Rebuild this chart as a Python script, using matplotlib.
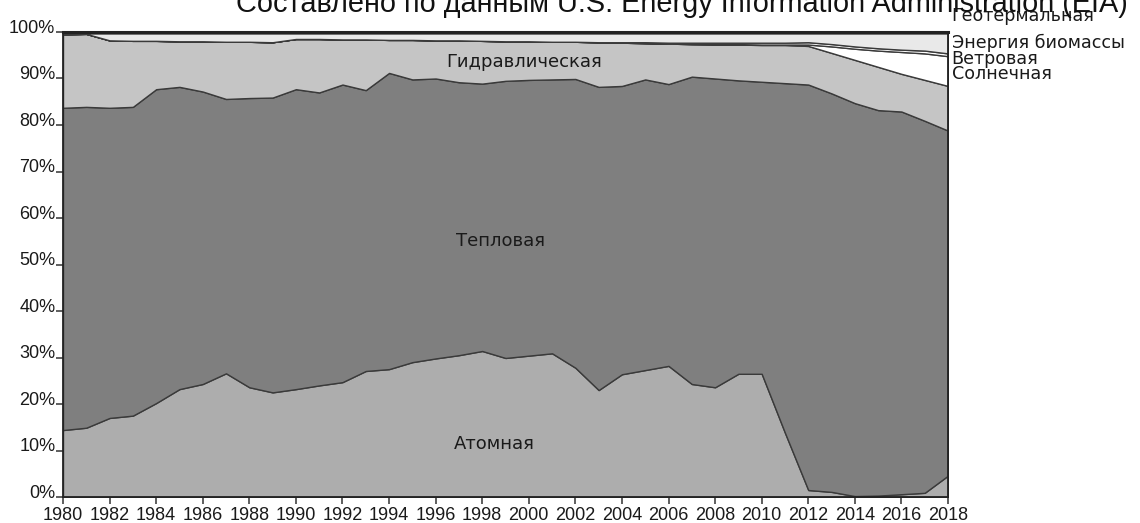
import numpy as np
import matplotlib
matplotlib.use("Agg")
import matplotlib.pyplot as plt
from matplotlib.transforms import ScaledTranslation, blended_transform_factory

years = list(range(1980, 2019))

nuclear = [14.4, 14.9, 17.0, 17.5, 20.2, 23.2, 24.3, 26.6, 23.6, 22.5,
           23.2, 24.0, 24.7, 27.1, 27.5, 29.0, 29.8, 30.5, 31.4, 29.9,
           30.4, 30.9, 27.8, 23.0, 26.4, 27.3, 28.2, 24.3, 23.6, 26.5,
           26.5, 13.8, 1.5, 1.1, 0.2, 0.3, 0.6, 0.9, 4.6]

thermal = [69.3, 69.0, 66.7, 66.4, 67.5, 65.0, 62.9, 59.0, 62.2, 63.4,
           64.5, 63.0, 64.0, 60.4, 63.7, 60.8, 60.2, 58.7, 57.5, 59.6,
           59.3, 58.9, 62.1, 65.2, 62.0, 62.5, 60.6, 66.1, 66.4, 63.1,
           62.8, 75.2, 87.2, 85.7, 84.5, 82.9, 82.3, 80.0, 74.2]

hydro = [15.8, 15.7, 14.5, 14.2, 10.4, 9.8, 10.8, 12.3, 12.1, 11.9,
         10.8, 11.5, 9.7, 10.9, 7.1, 8.5, 8.2, 9.0, 9.2, 8.5,
         8.3, 8.1, 8.0, 9.6, 9.3, 7.8, 8.7, 7.0, 7.3, 7.7,
         7.9, 8.2, 8.3, 8.7, 9.3, 9.3, 8.1, 8.8, 9.6]

solar = [0.0] * 28 + [0.1, 0.1, 0.1, 0.1, 0.3, 1.4, 2.4, 3.5, 4.7, 5.7, 6.4]

wind = [0.0] * 24 + [0.1, 0.2, 0.2, 0.3, 0.3, 0.3, 0.4, 0.4, 0.5, 0.5, 0.5,
                     0.5, 0.5, 0.6, 0.6]

biomass = [0.2, 0.1, 1.5, 1.6, 1.6, 1.7, 1.7, 1.8, 1.8, 1.9,
           1.2, 1.2, 1.3, 1.3, 1.4, 1.4, 1.5, 1.5, 1.6, 1.7,
           1.7, 1.8, 1.8, 1.9, 1.9, 1.9, 2.0, 2.0, 2.0, 2.0,
           2.0, 2.0, 1.9, 2.3, 2.8, 3.2, 3.5, 3.7, 4.3]

geothermal = [0.3] * 39

series_names = ["Атомная", "Тепловая", "Гидравлическая", "Солнечная",
                "Ветровая", "Энергия биомассы", "Геотермальная"]
colors = ["#adadad", "#7f7f7f", "#c5c5c5", "#ffffff", "#ffffff", "#e9e9e9", "#2a2a2a"]

xticks = list(range(1980, 2019, 2))
yticks = list(range(0, 101, 10))
ytick_labels = [f"{v}%" for v in yticks]

title = "Составлено по данным U.S. Energy Information Administration (EIA)"

fig = plt.figure(figsize=(11.4, 5.23), dpi=100)
ax = fig.add_axes([63 / 1140, 1 - 497 / 523, (948 - 63) / 1140, (497 - 32) / 523])

ax.stackplot(years, nuclear, thermal, hydro, solar, wind, biomass, geothermal,
             colors=colors, edgecolor="#3a3a3a", linewidth=1.0)

ax.set_xlim(1980, 2018)
ax.set_ylim(0, 100)
ax.set_xticks(xticks)
ax.set_yticks(yticks)
ax.set_yticklabels(ytick_labels)

for sp in ax.spines.values():
    sp.set_color("#222222")
    sp.set_linewidth(1.3)
ax.spines["top"].set_linewidth(2.2)

ax.tick_params(axis="both", direction="out", length=5, width=1.1, color="#333333",
               labelsize=13, labelcolor="#1a1a1a")
ax.tick_params(axis="x", pad=2)
ax.tick_params(axis="y", pad=0.5)
for lab in ax.get_xticklabels() + ax.get_yticklabels():
    lab.set_fontfamily("Liberation Sans")
for lab in ax.get_yticklabels():
    lab.set_transform(lab.get_transform() + ScaledTranslation(0, 4 / 72, fig.dpi_scale_trans))

# In-area labels
lab_font = dict(family="DejaVu Sans", fontsize=13, color="#1a1a1a", ha="center", va="center")
ax.text(1998.5, 11.4, series_names[0], **lab_font)
ax.text(1998.8, 55.0, series_names[1], **lab_font)
ax.text(1999.8, 93.5, series_names[2], **lab_font)

# Right-side labels (placed by baseline)
tr = blended_transform_factory(ax.transAxes, ax.transData)
side_font = dict(family="DejaVu Sans", fontsize=12.6, color="#1a1a1a", ha="left",
                 va="baseline", transform=tr, clip_on=False)
ax.text(1.004, 102.3, series_names[6], **side_font)
ax.text(1.004, 96.6, series_names[5], **side_font)
ax.text(1.004, 93.2, series_names[4], **side_font)
ax.text(1.004, 89.9, series_names[3], **side_font)

fig.text(682 / 1140, 1 - 12 / 523, title, ha="center", va="baseline",
         fontsize=20.8, family="Liberation Sans", color="#111111")

fig.savefig("out.png", dpi=100, facecolor="white")
